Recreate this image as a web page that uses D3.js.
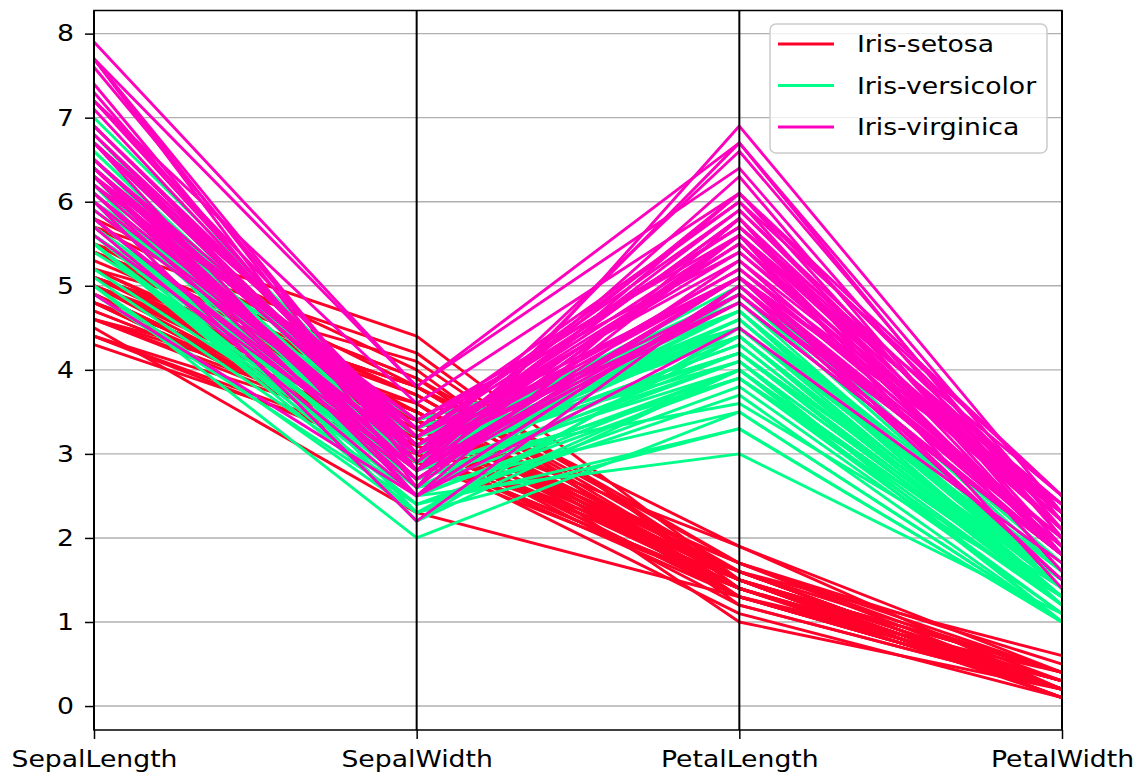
<!DOCTYPE html>
<html>
<head>
<meta charset="utf-8">
<script src="https://cdn.jsdelivr.net/npm/d3@7"></script>
<style>
  html, body { margin: 0; padding: 0; background: #fff; }
  svg { display: block; }
  text { font-family: "DejaVu Sans", sans-serif; fill: #000; }
</style>
</head>
<body>
<svg id="chart" width="1138" height="778"></svg>
<script>
// ---- Data (Iris dataset) ----
const dimensions = ["SepalLength", "SepalWidth", "PetalLength", "PetalWidth"];
const classNames = ["Iris-setosa", "Iris-versicolor", "Iris-virginica"];
const classColors = ["#ff0029", "#00ff89", "#ff00bf"];
const yTicks = [0, 1, 2, 3, 4, 5, 6, 7, 8];

const sepalLength = [
5.1,4.9,4.7,4.6,5.0,5.4,4.6,5.0,4.4,4.9,5.4,4.8,4.8,4.3,5.8,5.7,5.4,5.1,5.7,5.1,5.4,5.1,4.6,5.1,4.8,5.0,5.0,5.2,5.2,4.7,4.8,5.4,5.2,5.5,4.9,5.0,5.5,4.9,4.4,5.1,5.0,4.5,4.4,5.0,5.1,4.8,5.1,4.6,5.3,5.0,
7.0,6.4,6.9,5.5,6.5,5.7,6.3,4.9,6.6,5.2,5.0,5.9,6.0,6.1,5.6,6.7,5.6,5.8,6.2,5.6,5.9,6.1,6.3,6.1,6.4,6.6,6.8,6.7,6.0,5.7,5.5,5.5,5.8,6.0,5.4,6.0,6.7,6.3,5.6,5.5,5.5,6.1,5.8,5.0,5.6,5.7,5.7,6.2,5.1,5.7,
6.3,5.8,7.1,6.3,6.5,7.6,4.9,7.3,6.7,7.2,6.5,6.4,6.8,5.7,5.8,6.4,6.5,7.7,7.7,6.0,6.9,5.6,7.7,6.3,6.7,7.2,6.2,6.1,6.4,7.2,7.4,7.9,6.4,6.3,6.1,7.7,6.3,6.4,6.0,6.9,6.7,6.9,5.8,6.8,6.7,6.7,6.3,6.5,6.2,5.9];
const sepalWidth = [
3.5,3.0,3.2,3.1,3.6,3.9,3.4,3.4,2.9,3.1,3.7,3.4,3.0,3.0,4.0,4.4,3.9,3.5,3.8,3.8,3.4,3.7,3.6,3.3,3.4,3.0,3.4,3.5,3.4,3.2,3.1,3.4,4.1,4.2,3.1,3.2,3.5,3.1,3.0,3.4,3.5,2.3,3.2,3.5,3.8,3.0,3.8,3.2,3.7,3.3,
3.2,3.2,3.1,2.3,2.8,2.8,3.3,2.4,2.9,2.7,2.0,3.0,2.2,2.9,2.9,3.1,3.0,2.7,2.2,2.5,3.2,2.8,2.5,2.8,2.9,3.0,2.8,3.0,2.9,2.6,2.4,2.4,2.7,2.7,3.0,3.4,3.1,2.3,3.0,2.5,2.6,3.0,2.6,2.3,2.7,3.0,2.9,2.9,2.5,2.8,
3.3,2.7,3.0,2.9,3.0,3.0,2.5,2.9,2.5,3.6,3.2,2.7,3.0,2.5,2.8,3.2,3.0,3.8,2.6,2.2,3.2,2.8,2.8,2.7,3.3,3.2,2.8,3.0,2.8,3.0,2.8,3.8,2.8,2.8,2.6,3.0,3.4,3.1,3.0,3.1,3.1,3.1,2.7,3.2,3.3,3.0,2.5,3.0,3.4,3.0];
const petalLength = [
1.4,1.4,1.3,1.5,1.4,1.7,1.4,1.5,1.4,1.5,1.5,1.6,1.4,1.1,1.2,1.5,1.3,1.4,1.7,1.5,1.7,1.5,1.0,1.7,1.9,1.6,1.6,1.5,1.4,1.6,1.6,1.5,1.5,1.4,1.5,1.2,1.3,1.5,1.3,1.5,1.3,1.3,1.3,1.6,1.9,1.4,1.6,1.4,1.5,1.4,
4.7,4.5,4.9,4.0,4.6,4.5,4.7,3.3,4.6,3.9,3.5,4.2,4.0,4.7,3.6,4.4,4.5,4.1,4.5,3.9,4.8,4.0,4.9,4.7,4.3,4.4,4.8,5.0,4.5,3.5,3.8,3.7,3.9,5.1,4.5,4.5,4.7,4.4,4.1,4.0,4.4,4.6,4.0,3.3,4.2,4.2,4.2,4.3,3.0,4.1,
6.0,5.1,5.9,5.6,5.8,6.6,4.5,6.3,5.8,6.1,5.1,5.3,5.5,5.0,5.1,5.3,5.5,6.7,6.9,5.0,5.7,4.9,6.7,4.9,5.7,6.0,4.8,4.9,5.6,5.8,6.1,6.4,5.6,5.1,5.6,6.1,5.6,5.5,4.8,5.4,5.6,5.1,5.1,5.9,5.7,5.2,5.0,5.2,5.4,5.1];
const petalWidth = [
0.2,0.2,0.2,0.2,0.2,0.4,0.3,0.2,0.2,0.1,0.2,0.2,0.1,0.1,0.2,0.4,0.4,0.3,0.3,0.3,0.2,0.4,0.2,0.5,0.2,0.2,0.4,0.2,0.2,0.2,0.2,0.4,0.1,0.2,0.1,0.2,0.2,0.1,0.2,0.2,0.3,0.3,0.2,0.6,0.4,0.3,0.2,0.2,0.2,0.2,
1.4,1.5,1.5,1.3,1.5,1.3,1.6,1.0,1.3,1.4,1.0,1.5,1.0,1.4,1.3,1.4,1.5,1.0,1.5,1.1,1.8,1.3,1.5,1.2,1.3,1.4,1.4,1.7,1.5,1.0,1.1,1.0,1.2,1.6,1.5,1.6,1.5,1.3,1.3,1.3,1.2,1.4,1.2,1.0,1.3,1.2,1.3,1.3,1.1,1.3,
2.5,1.9,2.1,1.8,2.2,2.1,1.7,1.8,1.8,2.5,2.0,1.9,2.1,2.0,2.4,2.3,1.8,2.2,2.3,1.5,2.3,2.0,2.0,1.8,2.1,1.8,1.8,1.8,2.1,1.6,1.9,2.0,2.2,1.5,1.4,2.3,2.4,1.8,1.8,2.1,2.4,2.3,1.9,2.3,2.5,2.3,1.9,2.0,2.3,1.8];
const classIndex = d3.range(150).map(i => Math.floor(i / 50));

// ---- Layout ----
const svg = d3.select("#chart");
const L = 94, R = 1062, T = 10.5, B = 730;
const SX = 1.16; // horizontal text stretch seen in the reference

const x = d3.scalePoint().domain(dimensions).range([L, R]);
const y = d3.scaleLinear().domain([-0.285, 8.275]).range([B, T]);

const rows = d3.range(sepalLength.length).map(i => ({
  values: [sepalLength[i], sepalWidth[i], petalLength[i], petalWidth[i]],
  cls: classIndex[i]
}));

// Grid lines (horizontal)
svg.append("g").selectAll("line").data(yTicks).join("line")
  .attr("x1", L).attr("x2", R)
  .attr("y1", d => y(d)).attr("y2", d => y(d))
  .attr("stroke", "#b0b0b0").attr("stroke-width", 1.4);

// Data lines
const line = d3.line().x((d, i) => x(dimensions[i])).y(d => y(d));
svg.append("g").selectAll("path").data(rows).join("path")
  .attr("d", d => line(d.values))
  .attr("fill", "none")
  .attr("stroke", d => classColors[d.cls])
  .attr("stroke-width", 2.9)
  .attr("stroke-linejoin", "round");

// Vertical axis lines
svg.append("g").selectAll("line").data(dimensions).join("line")
  .attr("x1", d => x(d)).attr("x2", d => x(d))
  .attr("y1", T).attr("y2", B)
  .attr("stroke", "#000").attr("stroke-width", 2);

// Frame
svg.append("rect")
  .attr("x", L).attr("y", T).attr("width", R - L).attr("height", B - T)
  .attr("fill", "none").attr("stroke", "#000").attr("stroke-width", 1.5);

// Y axis
const yAxis = d3.axisLeft(y).tickValues(yTicks).tickSize(9).tickPadding(6).tickFormat(d3.format("d"));
const gy = svg.append("g").attr("transform", `translate(${L},0)`).call(yAxis);
gy.select(".domain").remove();
gy.selectAll(".tick line").attr("stroke", "#000").attr("stroke-width", 1.5);
gy.selectAll(".tick text")
  .attr("font-size", 23).attr("font-family", "DejaVu Sans").attr("fill", "#222")
  .attr("x", 0)
  .attr("transform", `translate(-20,0) scale(${SX},1)`);

// X axis
const xAxis = d3.axisBottom(x).tickSize(9).tickPadding(6);
const gx = svg.append("g").attr("transform", `translate(0,${B})`).call(xAxis);
gx.select(".domain").remove();
gx.selectAll(".tick line").attr("stroke", "#000").attr("stroke-width", 1.5);
gx.selectAll(".tick text")
  .attr("font-size", 23).attr("font-family", "DejaVu Sans").attr("fill", "#222")
  .attr("y", 0)
  .attr("transform", `translate(0,21) scale(${SX},1)`);

// Legend
const lg = svg.append("g");
lg.append("rect")
  .attr("x", 770).attr("y", 24).attr("width", 277).attr("height", 129)
  .attr("rx", 6).attr("ry", 6)
  .attr("fill", "#fff").attr("fill-opacity", 0.8)
  .attr("stroke", "#cccccc").attr("stroke-width", 1.5);
const items = lg.selectAll("g.item").data(classNames).join("g").attr("class", "item")
  .attr("transform", (d, i) => `translate(0,${44 + i * 41.5})`);
items.append("line")
  .attr("x1", 778).attr("x2", 834).attr("y1", 0).attr("y2", 0)
  .attr("stroke", (d, i) => classColors[i]).attr("stroke-width", 3.2);
items.append("text")
  .attr("x", 0).attr("y", 0).attr("dy", "0.36em")
  .attr("transform", `translate(857,0) scale(${SX},1)`)
  .attr("font-size", 23).attr("fill", "#222")
  .text(d => d);
</script>
</body>
</html>
